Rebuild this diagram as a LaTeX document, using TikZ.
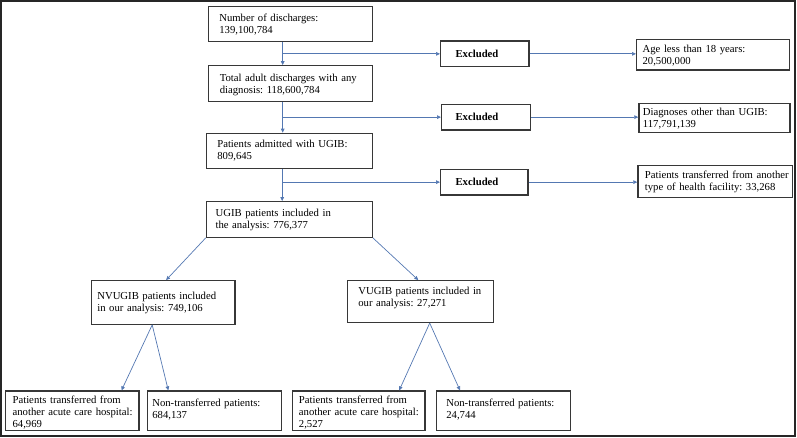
\documentclass[tikz,border=0pt]{standalone}
\usepackage{fontspec}
\setmainfont{Liberation Serif}
\usetikzlibrary{arrows.meta}
\definecolor{arrc}{RGB}{84,120,178}
\definecolor{boxc}{RGB}{55,55,55}
\frenchspacing
\begin{document}
\begin{tikzpicture}[x=1pt,y=-1pt,
  fbox/.style={draw=boxc, line width=1.2pt, rectangle, inner ysep=0pt, inner xsep=0pt, anchor=base west, align=left,
    font=\fontsize{10.7}{12.4}\selectfont},
  rbox/.style={fbox, font=\fontsize{10.7}{12}\selectfont},
  exbox/.style={fbox, font=\fontsize{10.7}{12.4}\selectfont\bfseries},
  arr/.style={draw=arrc, line width=0.7pt, -{Triangle[length=4pt,width=3.6pt]}}]
\useasboundingbox (0,0) rectangle (797,438);
\draw[line width=2.2pt, black!85] (1.3,1.3) rectangle (795,436);
% left column
\node[fbox, text width=164pt, text height=14.8pt, text depth=20.2pt] (b1) at (207.7,21.5) {\leftskip=11pt Number of discharges:\\139,100,784\par};
\node[fbox, text width=164pt, text height=15.8pt, text depth=20.2pt] (b2) at (207.7,81.5) {\leftskip=11.5pt Total adult discharges with any\\diagnosis: 118,600,784\par};
\node[fbox, text width=166pt, text height=14.2pt, text depth=20.8pt] (b3) at (205.7,147.5) {\leftskip=11pt Patients admitted with UGIB:\\809,645\par};
\node[fbox, text width=166pt, text height=14.6pt, text depth=21pt] (b4) at (205.7,216.3) {\leftskip=9.3pt UGIB patients included in\\the analysis: 776,377\par};
% excluded
\node[exbox, text width=88.3pt, text height=16.2pt, text depth=9.5pt] (e1) at (440,57.2) {\leftskip=15pt Excluded\par};
\node[exbox, text width=89pt, text height=16.4pt, text depth=9.3pt] (e2) at (441,120.7) {\leftskip=14pt Excluded\par};
\node[exbox, text width=87.3pt, text height=16.4pt, text depth=9.3pt] (e3) at (440,185.7) {\leftskip=15pt Excluded\par};
% right boxes
\node[rbox, text width=153pt, text height=13.2pt, text depth=17.5pt] (r1) at (636,52.5) {\leftskip=6pt Age less than 18 years:\\20,500,000\par};
\node[rbox, text width=151pt, text height=12.2pt, text depth=17.2pt] (r2) at (638.3,115.5) {\leftskip=4pt Diagnoses other than UGIB:\\117,791,139\par};
\node[rbox, text width=154.4pt, text height=13pt, text depth=19pt] (r3) at (637.3,178.7) {\leftskip=7pt Patients transferred from another\\type of health facility: 33,268\par};
% second level
\node[fbox, text width=143.6pt, text height=18.3pt, text depth=25.3pt, font=\fontsize{10.7}{12}\selectfont] (nv) at (90.7,299) {\leftskip=6pt NVUGIB patients included\\in our analysis: 749,106\par};
\node[fbox, text width=146pt, text height=13.6pt, text depth=28.2pt, font=\fontsize{10.7}{12}\selectfont] (vu) at (346.7,294.3) {\leftskip=11pt VUGIB patients included in\\our analysis: 27,271\par};
% bottom
\node[fbox, text width=133.3pt, text height=12.3pt, text depth=27.4pt, font=\fontsize{10.7}{12}\selectfont] (pa) at (5,403.3) {\leftskip=7pt Patients transferred from\\another acute care hospital:\\64,969\par};
\node[fbox, text width=134.3pt, text height=15pt, text depth=24.7pt, font=\fontsize{10.7}{12}\selectfont] (na) at (146.7,406) {\leftskip=5pt Non-transferred patients:\\684,137\par};
\node[fbox, text width=132.6pt, text height=12.3pt, text depth=27.4pt, font=\fontsize{10.7}{12}\selectfont] (pb) at (291.7,403.3) {\leftskip=6.6pt Patients transferred from\\another acute care hospital:\\2,527\par};
\node[fbox, text width=134.3pt, text height=15pt, text depth=24.7pt, font=\fontsize{10.7}{12}\selectfont] (nb) at (435.7,406) {\leftskip=10pt Non-transferred patients:\\24,744\par};
% connectors main column
\coordinate (v1) at ([xshift=75pt]b1.south west);
\coordinate (v2) at ([xshift=75pt]b2.south west);
\coordinate (v3) at ([xshift=76.5pt]b3.south west);
\draw[arr] (v1) -- (v1 |- b2.north);
\draw[arr] (v2) -- (v2 |- b3.north);
\draw[arr] (v3) -- (v3 |- b4.north);
\draw[arr] (v1 |- e1.west) -- (e1.west);
\draw[arr] (v2 |- e2.west) -- (e2.west);
\draw[arr] (v3 |- e3.west) -- (e3.west);
\draw[arr] (e1.east) -- (e1.east -| r1.west);
\draw[arr] (e2.east) -- (e2.east -| r2.west);
\draw[arr] (e3.east) -- (e3.east -| r3.west);
% split
\draw[arr] (b4.south west) -- ([xshift=3pt]nv.north);
\draw[arr] (b4.south east) -- ([xshift=-2pt]vu.north);
\coordinate (nvo) at ([xshift=61.5pt]nv.south west);
\coordinate (vuo) at ([xshift=83pt]vu.south west);
\draw[arr] (nvo) -- ([xshift=-18pt]pa.north east);
\draw[arr] (nvo) -- ([xshift=21.6pt]na.north west);
\draw[arr] (vuo) -- ([xshift=-26.3pt]pb.north east);
\draw[arr] (vuo) -- ([xshift=24.3pt]nb.north west);
\end{tikzpicture}
\end{document}
